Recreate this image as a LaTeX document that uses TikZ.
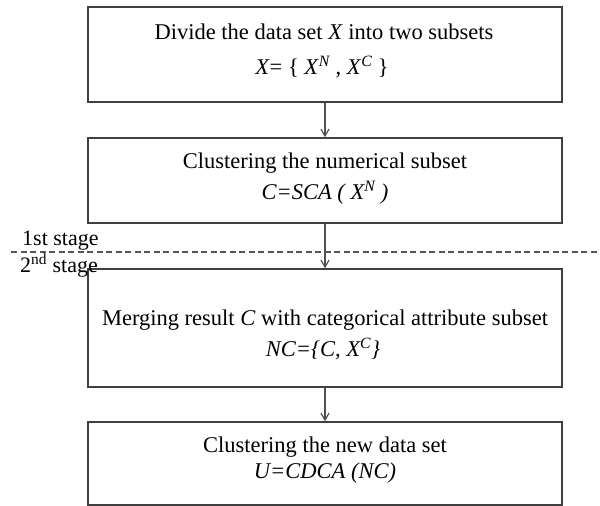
\documentclass[tikz,border=0pt]{standalone}
\usepackage{fontspec}
\setmainfont{Liberation Serif}
\usetikzlibrary{arrows.meta}
\definecolor{boxgray}{HTML}{404040}
\definecolor{arrowgray}{HTML}{505050}
\definecolor{dashgray}{HTML}{555555}
\newcommand{\mysup}[1]{\textsuperscript{\itshape #1}}
\begin{document}
\begin{tikzpicture}[x=1pt,y=-1pt,
  stepbox/.style={draw=boxgray,line width=1.4pt,rectangle,minimum width=474pt,inner sep=0pt},
  txt/.style={anchor=base,inner sep=0pt,font=\fontsize{22.5}{26}\selectfont},
  stagetxt/.style={anchor=base west,inner sep=0pt,font=\fontsize{22}{26}\selectfont},
  flow/.style={draw=arrowgray,line width=1.2pt,-{Straight Barb[length=7pt,width=8pt]}},
  sep/.style={draw=dashgray,line width=1.5pt,dash pattern=on 6pt off 3.5pt}]
\useasboundingbox (0,0) rectangle (600,506);

% boxes
\node[stepbox,minimum height=95pt] (b1) at (325,54.5) {};
\node[stepbox,minimum height=85pt] (b2) at (325,180.5) {};
\node[stepbox,minimum height=118pt] (b3) at (325,328) {};
\node[stepbox,minimum height=83pt] (b4) at (325,463.5) {};

% texts
\node[txt] (t1a) at (324,39) {Divide the data set \textit{X} into two subsets};
\node[txt] (t1b) at (322,74) {\textit{X}= \{ \textit{X}\mysup{N} , \textit{X}\mysup{C} \}};
\node[txt] (t2a) at (325,168) {Clustering the numerical subset};
\node[txt] (t2b) at (325,199) {\textit{C=SCA ( X\mysup{N} )}};
\node[txt] (t3a) at (325,325) {Merging result \textit{C} with categorical attribute subset};
\node[txt] (t3b) at (323,356) {\textit{NC=\{C, X\mysup{C}\}}};
\node[txt] (t4a) at (325,452) {Clustering the new data set};
\node[txt] (t4b) at (325,478) {\textit{U=CDCA (NC)}};

% stage separator
\coordinate (dl) at (11,252);
\coordinate (dr) at (600,252);
\draw[sep] (dl) -- (dr);
\node[stagetxt] (s1) at (22,245) {1st stage};
\node[stagetxt] (s2) at (20,272) {2\textsuperscript{nd} stage};

% arrows
\draw[flow] (b1.south) -- (b2.north);
\draw[flow] (b2.south) -- (b3.north);
\draw[flow] (b3.south) -- (b4.north);
\end{tikzpicture}
\end{document}
